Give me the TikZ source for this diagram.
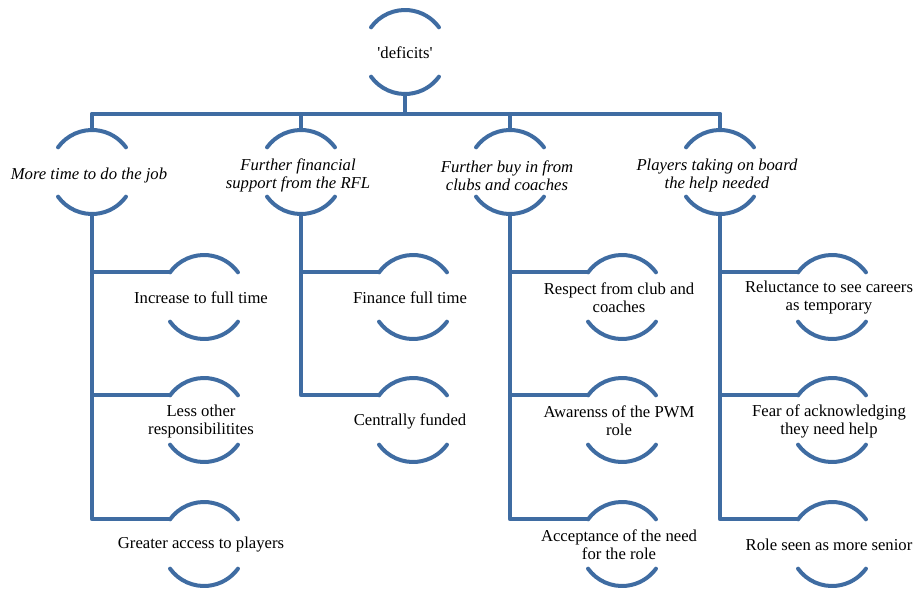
\documentclass[tikz,border=0pt]{standalone}
\usepackage{fontspec}
\setmainfont{Liberation Serif}
\newfontfamily\itemfont{Liberation Serif}
\definecolor{steelline}{RGB}{63,108,162}
\usetikzlibrary{positioning, calc}

\begin{document}
\begin{tikzpicture}[
    x=0.75pt, y=-0.75pt,
    item/.style={circle, minimum size=63pt, inner sep=0pt, outer sep=0pt},
    headtxt/.style={font=\itemfont\fontsize{12.5}{13.5}\selectfont\itshape, align=center, xshift=-2.25pt, yshift=-2.5pt},
    leaftxt/.style={font=\itemfont\fontsize{12.5}{13.5}\selectfont, align=center, xshift=-2.25pt, yshift=-0.75pt},
    link/.style={draw=steelline, line width=3pt, line cap=round, line join=round}
]
\useasboundingbox (0,0) rectangle (915,592);

% --- Root ---
\node[item, label={[leaftxt, xshift=2.25pt]center:\textquotesingle deficits\textquotesingle}] (root) at (405,52) {};
\coordinate (bus) at (405,114);

% --- First level ---
\node[item, label={[headtxt]center:More time to do the job}] (more) at (92,172) {};
\node[item, label={[headtxt]center:Further financial\\support from the RFL}] (fin) at (301,172) {};
\node[item, label={[headtxt]center:Further buy in from\\clubs and coaches}] (buy) at (510,172) {};
\node[item, label={[headtxt]center:Players taking on board\\the help needed}] (play) at (720,172) {};

% --- More time ---
\node[item, label={[leaftxt]center:Increase to full time}] (inc) at (204,297) {};
\node[item, label={[leaftxt]center:Less other\\responsibilitites}] (less) at (204,420) {};
\node[item, label={[leaftxt]center:Greater access to players}] (access) at (204,544) {};

% --- Financial support ---
\node[item, label={[leaftxt]center:Finance full time}] (finance) at (413,297) {};
\node[item, label={[leaftxt]center:Centrally funded}] (central) at (413,420) {};

% --- Buy in ---
\node[item, label={[leaftxt]center:Respect from club and\\coaches}] (respect) at (622,297) {};
\node[item, label={[leaftxt]center:Awarenss of the PWM\\role}] (aware) at (622,420) {};
\node[item, label={[leaftxt]center:Acceptance of the need\\for the role}] (accept) at (622,544) {};

% --- Players ---
\node[item, label={[leaftxt]center:Reluctance to see careers\\as temporary}] (reluct) at (832,297) {};
\node[item, label={[leaftxt]center:Fear of acknowledging\\they need help}] (fear) at (832,420) {};
\node[item, label={[leaftxt]center:Role seen as more senior}] (senior) at (832,544) {};

% --- Arcs above and below each item ---
\foreach \n in {root,more,fin,buy,play,inc,less,access,finance,central,respect,aware,accept,reluct,fear,senior}
  \draw[link] (\n.144) arc[start angle=144, end angle=36, radius=31.5pt]
              (\n.216) arc[start angle=216, end angle=324, radius=31.5pt];

% --- Connectors ---
\draw[link] (root.south) -- (bus);
\draw[link] (more.north |- bus) -- (play.north |- bus);
\foreach \n in {more,fin,buy,play}
  \draw[link] (\n.north |- bus) -- (\n.north);

\draw[link] (more.south) |- (inc.144);
\draw[link] (more.south) |- (less.144);
\draw[link] (more.south) |- (access.144);
\draw[link] (fin.south) |- (finance.144);
\draw[link] (fin.south) |- (central.144);
\draw[link] (buy.south) |- (respect.144);
\draw[link] (buy.south) |- (aware.144);
\draw[link] (buy.south) |- (accept.144);
\draw[link] (play.south) |- (reluct.144);
\draw[link] (play.south) |- (fear.144);
\draw[link] (play.south) |- (senior.144);

\end{tikzpicture}
\end{document}
